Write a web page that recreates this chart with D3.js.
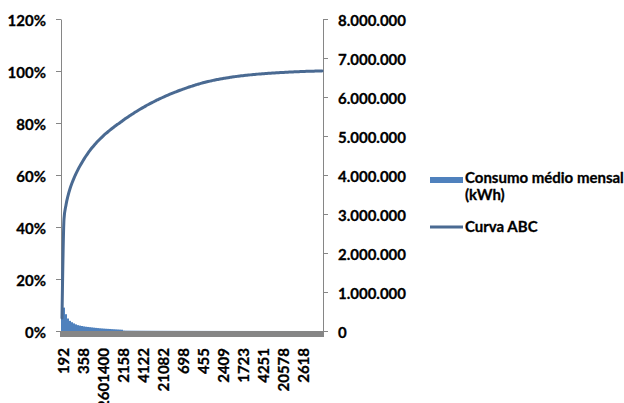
<!DOCTYPE html>
<html>
<head>
<meta charset="utf-8">
<script src="https://cdn.jsdelivr.net/npm/d3@7"></script>
<style>
  html, body { margin: 0; padding: 0; background: #fff; }
  svg { display: block; }
  text { font-family: Lato, "Open Sans", sans-serif; font-weight: bold; fill: #000;
         stroke: #000; stroke-width: 0.3px; }
</style>
</head>
<body>
<svg id="chart" width="624" height="403"></svg>
<script>
// Consumo médio mensal (kWh) por unidade, em ordem decrescente
const consumo = [
  720000, 600000, 430000, 320000, 260000, 225000, 195000, 170000, 150000, 138000,
  128000, 118000, 110000, 104000, 98000, 92000, 86000, 80000, 75000, 70000,
  66000, 62000, 58000, 55000, 52000, 48000, 45000, 42000, 39000, 36000,
  33000, 12000,
  9500, 9000, 8600, 8200, 7900, 7600, 7300, 7000, 6700,
  6500, 6200, 6000, 5800, 5600, 5400, 5200, 5000, 4850, 4700,
  4550, 4400, 4250, 4100, 3950, 3800, 3700, 3600, 3500, 3400,
  3300, 3200, 3100, 3000, 2900, 2800, 2700, 2600, 2500, 2420,
  2340, 2260, 2180, 2100, 2020, 1950, 1880, 1810, 1750, 1690,
  1630, 1570, 1510, 1460, 1410, 1360, 1310, 1260, 1220, 1180,
  1140, 1100, 1060, 1020, 980, 940, 900, 870, 840, 810,
  780, 750, 720, 690, 660, 630, 600, 575, 550, 525,
  500, 480, 460, 440, 420, 400, 380, 360, 340, 320,
  300, 280, 260, 240, 220, 200, 180, 160, 140, 120
];

// Curva ABC: participação acumulada no consumo total
const curvaABC = [
  0.05, 0.43, 0.485, 0.52, 0.547, 0.569, 0.588, 0.605, 0.6205, 0.635,
  0.6485, 0.6612, 0.6731, 0.6843, 0.6948, 0.7046, 0.7138, 0.7225, 0.7307, 0.7385,
  0.7459, 0.753, 0.7598, 0.7663, 0.7726, 0.7787, 0.7846, 0.7903, 0.7959, 0.8013,
  0.807, 0.8126, 0.818, 0.8233, 0.8285, 0.8336, 0.8385, 0.8434, 0.8481, 0.8527,
  0.8572, 0.8616, 0.866, 0.8702, 0.8743, 0.8783, 0.8822, 0.8861, 0.8898, 0.8935,
  0.8971, 0.9006, 0.904, 0.9073, 0.9106, 0.9138, 0.9169, 0.92, 0.923, 0.9259,
  0.9287, 0.9315, 0.9342, 0.9369, 0.9394, 0.942, 0.9444, 0.9469, 0.9492, 0.9515,
  0.9536, 0.9556, 0.9575, 0.9594, 0.9612, 0.9629, 0.9645, 0.9661, 0.9676, 0.9691,
  0.9705, 0.9718, 0.9731, 0.9744, 0.9756, 0.9767, 0.9778, 0.9788, 0.9798, 0.9808,
  0.9817, 0.9826, 0.9835, 0.9843, 0.9851, 0.9859, 0.9866, 0.9873, 0.988, 0.9886,
  0.9892, 0.9898, 0.9904, 0.9909, 0.9914, 0.9919, 0.9924, 0.9929, 0.9934, 0.9938,
  0.9943, 0.9947, 0.9951, 0.9955, 0.9959, 0.9963, 0.9967, 0.997, 0.9974, 0.9977,
  0.998, 0.9983, 0.9986, 0.9989, 0.9991, 0.9993, 0.9995, 0.9997, 0.9998, 0.9999,
  1
];

// Rótulos das unidades exibidos no eixo (uma a cada 10 categorias)
const rotulosUnidades = ["192", "358", "2601400", "2158", "4122", "21082", "698",
                         "455", "2409", "1723", "4251", "20578", "2618"];
const passoRotulo = 10;

const ticksPercent = [0, 0.2, 0.4, 0.6, 0.8, 1.0, 1.2];
const ticksConsumo = [0, 1e6, 2e6, 3e6, 4e6, 5e6, 6e6, 7e6, 8e6];

const legenda = [
  { tipo: "barra", linhas: ["Consumo médio mensal", "(kWh)"] },
  { tipo: "linha", linhas: ["Curva ABC"] }
];

const corBarra = "#4F81BD";
const corLinha = "#4A6A92";
const corEixo = "#868686";
const tamFonte = 15;

const svg = d3.select("#chart");
const plot = { left: 61, right: 323, top: 19, bottom: 331 };

const indices = d3.range(consumo.length);
const x = d3.scaleBand().domain(indices).range([plot.left, plot.right]).padding(0);
const yPct = d3.scaleLinear().domain([0, 1.2]).range([plot.bottom, plot.top]);
const yKwh = d3.scaleLinear().domain([0, 8e6]).range([plot.bottom, plot.top]);

const br = d3.formatLocale({ decimal: ",", thousands: ".", grouping: [3], currency: ["R$", ""] });
const fmtKwh = br.format(",.0f");
const fmtPct = d3.format(".0%");

// Eixo esquerdo (percentual)
const eixoEsq = svg.append("g")
  .attr("transform", `translate(${plot.left},0)`)
  .call(d3.axisLeft(yPct).tickValues(ticksPercent).tickFormat(fmtPct)
    .tickSize(5).tickSizeOuter(0).tickPadding(10));

// Eixo direito (kWh)
const eixoDir = svg.append("g")
  .attr("transform", `translate(${plot.right},0)`)
  .call(d3.axisRight(yKwh).tickValues(ticksConsumo).tickFormat(fmtKwh)
    .tickSize(5).tickSizeOuter(0).tickPadding(10));

[eixoEsq, eixoDir].forEach(g => {
  g.selectAll("path, line").attr("stroke", corEixo);
  g.selectAll("text").attr("font-size", tamFonte).attr("dy", "0.42em").attr("fill", "#000");
});

// Eixo de categorias: uma marca por unidade
const eixoX = svg.append("g").attr("transform", `translate(0,${plot.bottom})`);
eixoX.selectAll("line.marca")
  .data(d3.range(consumo.length + 1))
  .join("line")
  .attr("class", "marca")
  .attr("x1", i => plot.left + i * x.step())
  .attr("x2", i => plot.left + i * x.step())
  .attr("y1", 0).attr("y2", 6)
  .attr("stroke", corEixo).attr("stroke-width", x.step());
eixoX.append("line")
  .attr("x1", plot.left).attr("x2", plot.right)
  .attr("y1", 0.5).attr("y2", 0.5)
  .attr("stroke", corEixo);

eixoX.selectAll("text.rotulo")
  .data(rotulosUnidades)
  .join("text")
  .attr("class", "rotulo")
  .attr("transform", (d, k) => `translate(${x(k * passoRotulo) + x.bandwidth() / 2},0) rotate(-90)`)
  .attr("x", -17)
  .attr("dy", "0.45em")
  .attr("text-anchor", "end")
  .attr("font-size", tamFonte)
  .text(d => d);

// Barras de consumo
svg.append("g").selectAll("rect")
  .data(consumo)
  .join("rect")
  .attr("x", (d, i) => x(i))
  .attr("width", x.bandwidth())
  .attr("y", d => yKwh(d))
  .attr("height", d => plot.bottom - yKwh(d))
  .attr("fill", corBarra);

// Curva ABC
svg.append("path")
  .datum(curvaABC)
  .attr("fill", "none")
  .attr("stroke", corLinha)
  .attr("stroke-width", 3)
  .attr("stroke-linejoin", "round")
  .attr("stroke-linecap", "round")
  .attr("d", d3.line()
    .x((d, i) => x(i) + x.bandwidth() / 2)
    .y(d => yPct(d))
    .curve(d3.curveMonotoneX));

// Legenda
const leg = svg.append("g").attr("transform", "translate(430,0)");
const posLeg = [
  { cy: 180, base: 183 },
  { cy: 227, base: 232 }
];
legenda.forEach((item, k) => {
  const p = posLeg[k];
  if (item.tipo === "barra") {
    leg.append("rect").attr("x", 0).attr("y", p.cy - 3).attr("width", 33).attr("height", 6)
      .attr("fill", corBarra);
  } else {
    leg.append("line").attr("x1", 0).attr("x2", 33).attr("y1", p.cy).attr("y2", p.cy)
      .attr("stroke", corLinha).attr("stroke-width", 3);
  }
  item.linhas.forEach((t, j) => {
    leg.append("text")
      .attr("x", 35)
      .attr("y", p.base + j * 17)
      .attr("font-size", tamFonte)
      .text(t);
  });
});
</script>
</body>
</html>
